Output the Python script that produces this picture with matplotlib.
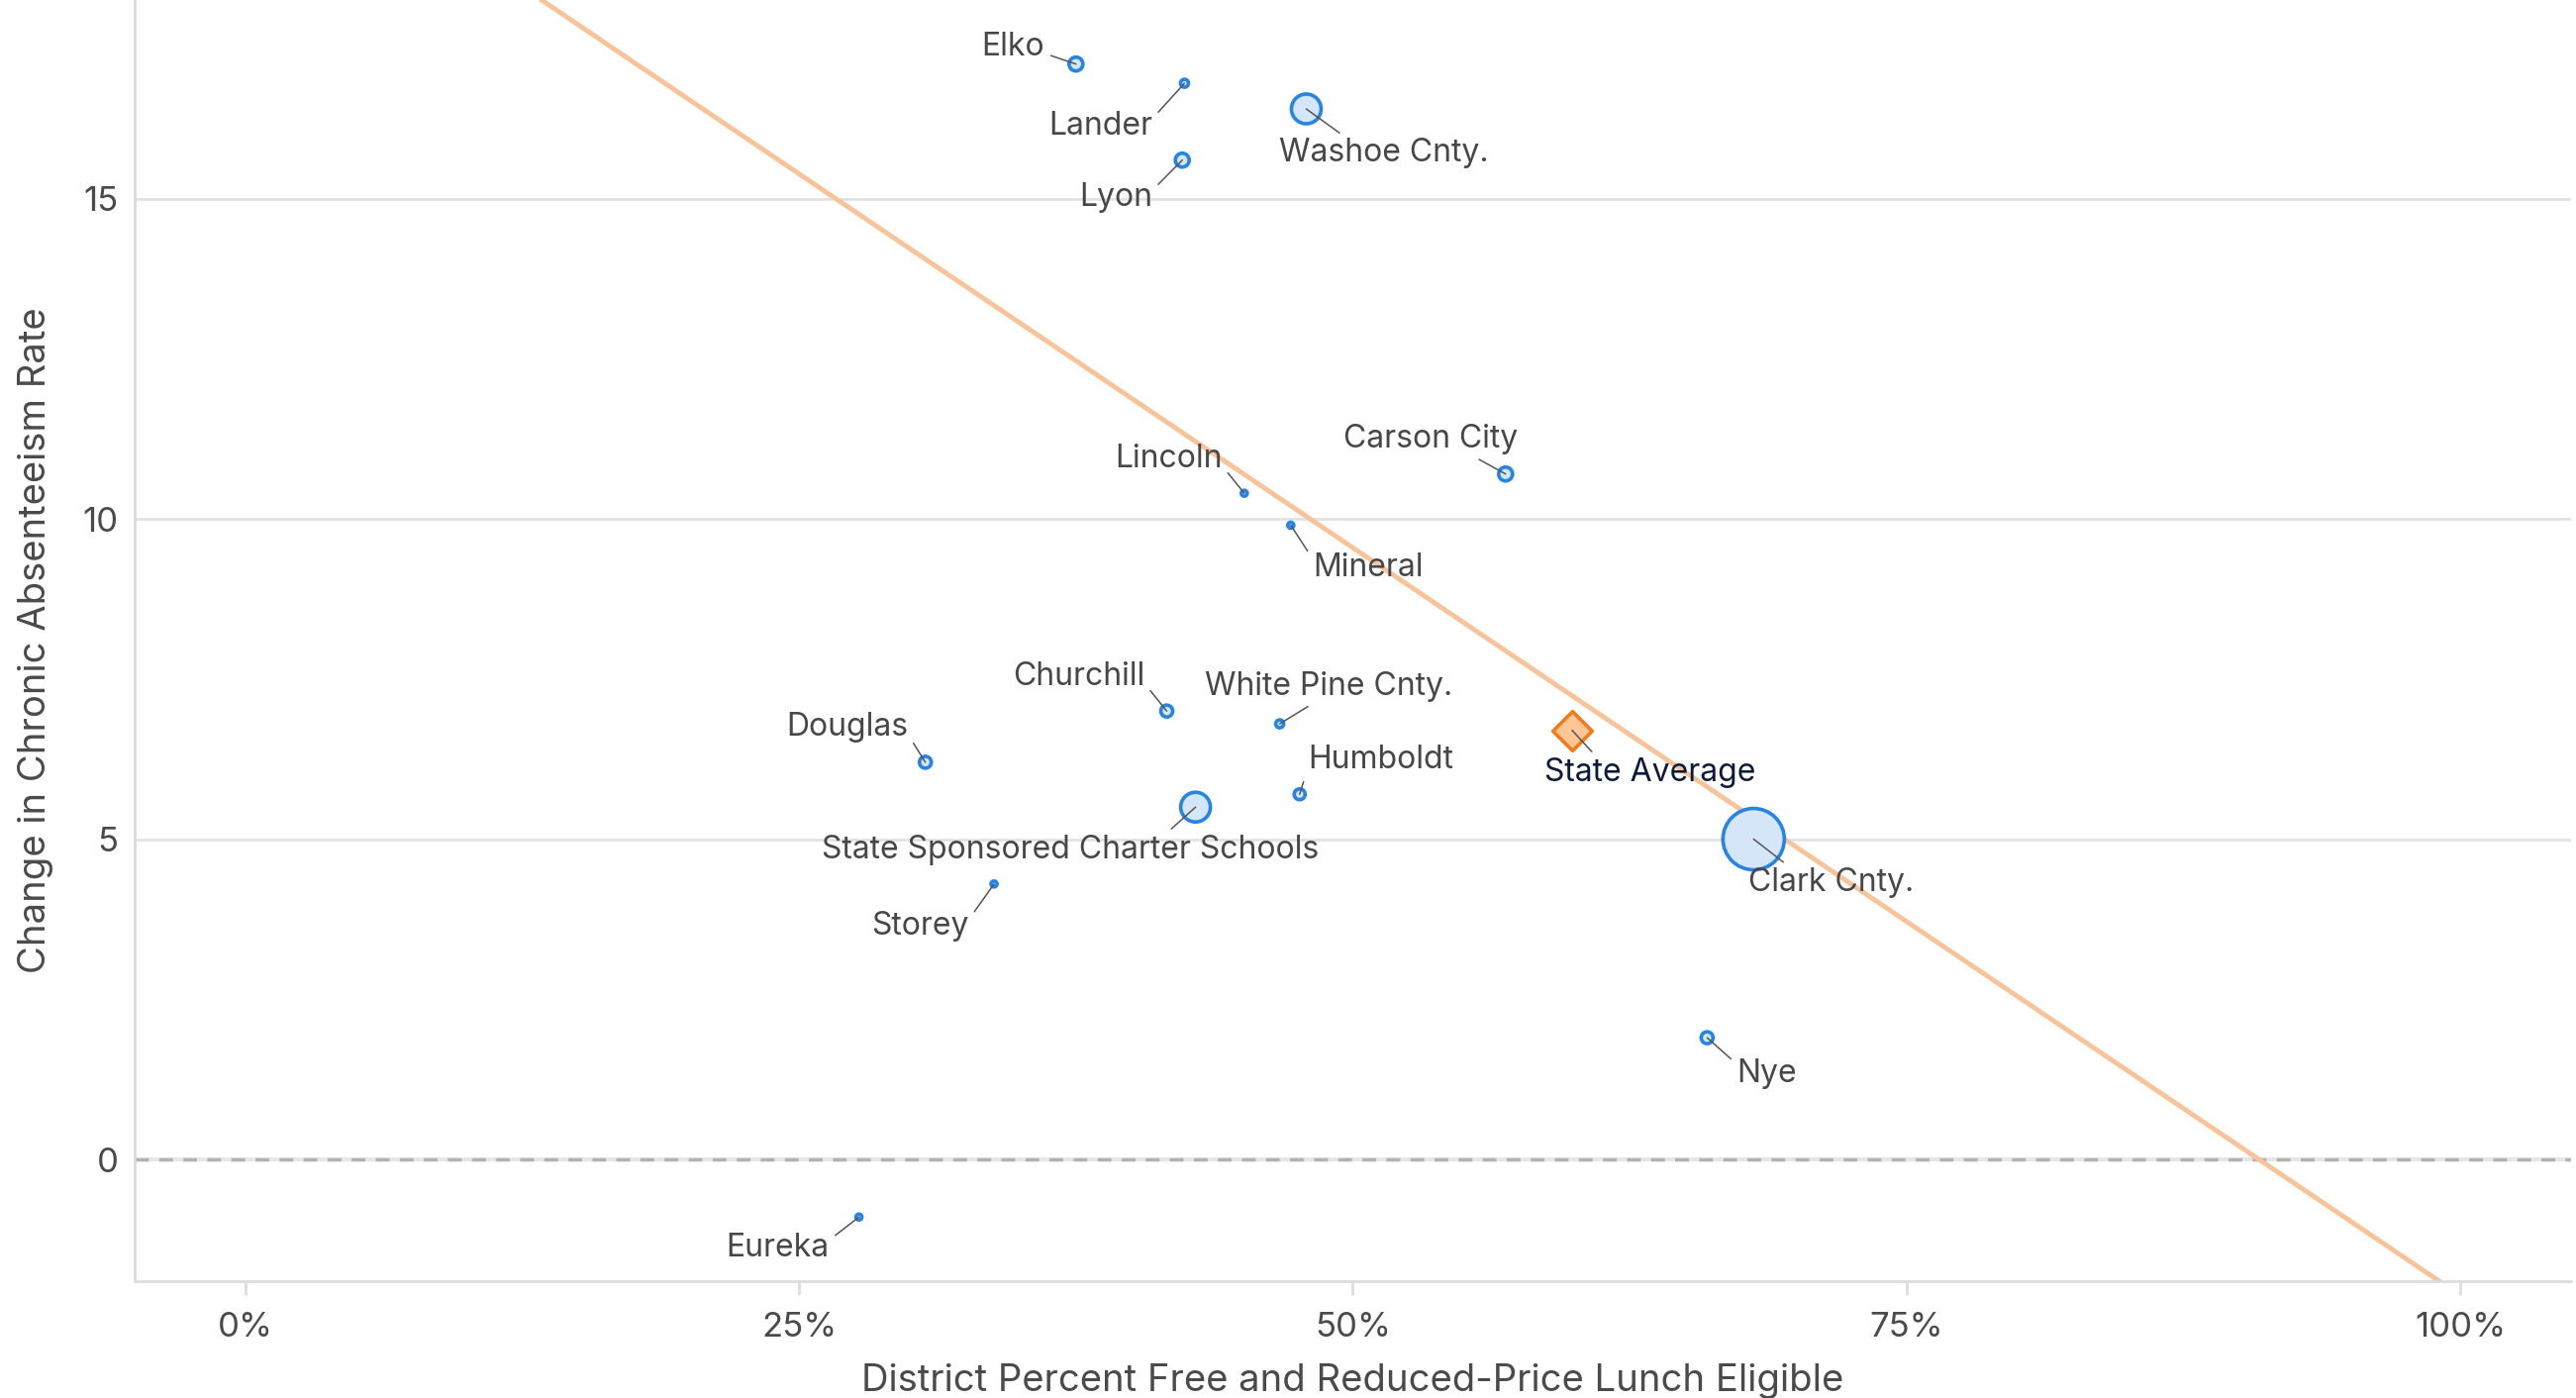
import matplotlib
matplotlib.use('Agg')
import matplotlib.pyplot as plt
from matplotlib.ticker import FuncFormatter

plt.rcParams['font.family'] = ['Inter', 'DejaVu Sans']

# ── data ──
districts = ['Elko', 'Lander', 'Washoe Cnty.', 'Lyon', 'Lincoln', 'Carson City',
             'Mineral', 'Churchill', 'White Pine Cnty.', 'Douglas', 'Humboldt',
             'State Sponsored Charter Schools', 'Clark Cnty.', 'Storey', 'Nye', 'Eureka']
frl_pct = [37.5, 42.4, 47.9, 42.3, 45.1, 56.9, 47.2, 41.6, 46.7, 30.7, 47.6,
           42.9, 68.1, 33.8, 66.0, 27.7]
absent_change = [17.1, 16.8, 16.4, 15.6, 10.4, 10.7, 9.9, 7.0, 6.8, 6.2, 5.7,
                 5.5, 5.0, 4.3, 1.9, -0.9]
# relative bubble weight (marker radius in px)
bubble_radius = [7, 4, 15, 7, 3, 7, 3, 6, 4, 6, 5.5, 15, 31, 3, 6, 3]

state_avg_x = 59.9
state_avg_y = 6.7

trend_intercept = 21.22   # value at 0 %
trend_slope = -0.2334     # per percentage point

x_ticks = [0, 25, 50, 75, 100]
y_ticks = [0, 5, 10, 15]

# label placement: offset in pixels (dx, dy), alignment, leader anchor on text box
label_offsets = {
    'Elko': (-32, 17, 'right', (1.0, 0.3)),
    'Lander': (-32, -43, 'right', (1.0, 0.75)),
    'Washoe Cnty.': (-27, -45, 'left', (0.32, 1.0)),
    'Lyon': (-30, -38, 'right', (1.0, 0.75)),
    'Lincoln': (-22, 35, 'right', (1.0, 0.25)),
    'Carson City': (-76, 35, 'center', (0.73, 0.0)),
    'Mineral': (22, -43, 'left', (0.0, 0.8)),
    'Churchill': (-22, 35, 'right', (1.0, 0.25)),
    'White Pine Cnty.': (-76, 38, 'left', (0.45, 0.0)),
    'Douglas': (-17, 35, 'right', (1.0, 0.25)),
    'Humboldt': (8, 35, 'left', (0.0, 0.2)),
    'State Sponsored Charter Schools': (-126, -43, 'center', (0.69, 1.0)),
    'Clark Cnty.': (-5, -44, 'left', (0.25, 1.0)),
    'Storey': (-25, -43, 'right', (1.0, 0.75)),
    'Nye': (30, -36, 'left', (0.0, 0.8)),
    'Eureka': (-30, -31, 'right', (1.0, 0.75)),
}

DPI = 100
px2pt = 72 / DPI

fig = plt.figure(figsize=(26.02, 14.12), dpi=DPI)
ax = fig.add_axes([0.0523, 0.0836, 0.9457, 0.9164])

ax.set_xlim(-5, 105)
ax.set_ylim(-1.9, 18.1)

# grid
for yv in y_ticks:
    if yv == 0:
        ax.axhline(0, color='#e6e6e6', lw=3, zorder=1)
        ax.axhline(0, color='#b3b3b3', lw=2.5, ls=(0, (4, 3)), zorder=1.1)
    else:
        ax.axhline(yv, color='#e2e2e2', lw=2, zorder=1)

# trend line
tx = [-5, 105]
ty = [trend_intercept + trend_slope * v for v in tx]
ax.plot(tx, ty, color='#f9c39a', lw=3.5, zorder=2, solid_capstyle='butt')

# bubbles
sizes = [(2 * r * px2pt) ** 2 for r in bubble_radius]
ax.scatter(frl_pct, absent_change, s=sizes, facecolor='#d4e6f8',
           edgecolor='#2684e6', linewidth=2.6, zorder=3)

# state average
ax.scatter([state_avg_x], [state_avg_y], marker='D', s=(28 * px2pt) ** 2,
           facecolor='#fdc795', edgecolor='#f07b1c', linewidth=2.6, zorder=4)

# labels
for name, xv, yv in zip(districts, frl_pct, absent_change):
    dx, dy, ha, rel = label_offsets[name]
    ax.annotate(name, xy=(xv, yv), xytext=(dx, dy), textcoords='offset pixels',
                ha=ha, va='center', fontsize=23, color='#474747',
                arrowprops=dict(arrowstyle='-', color='#555555', lw=1.1,
                                shrinkA=3, shrinkB=0, relpos=rel),
                zorder=5)

ax.annotate('State Average', xy=(state_avg_x, state_avg_y), xytext=(-28, -43),
            textcoords='offset pixels', ha='left', va='center', fontsize=23,
            color='#0d1b3a',
            arrowprops=dict(arrowstyle='-', color='#555555', lw=1.1,
                            shrinkA=3, shrinkB=0, relpos=(0.25, 1.0)),
            zorder=5)

# axes styling
for side in ['top', 'right']:
    ax.spines[side].set_visible(False)
for side in ['left', 'bottom']:
    ax.spines[side].set_color('#dddddd')
    ax.spines[side].set_linewidth(2)

ax.set_xticks(x_ticks)
ax.xaxis.set_major_formatter(FuncFormatter(lambda v, p: f'{v:.0f}%'))
ax.set_yticks(y_ticks)
ax.tick_params(axis='x', colors='#dddddd', length=10, width=2, labelsize=25,
               labelcolor='#4a4a4a', pad=12)
ax.tick_params(axis='y', length=0, labelsize=25, labelcolor='#4a4a4a', pad=12)

ax.set_xlabel('District Percent Free and Reduced-Price Lunch Eligible',
              fontsize=27.5, color='#4a4a4a', labelpad=15)
ax.set_ylabel('Change in Chronic Absenteeism Rate', fontsize=27.5,
              color='#4a4a4a', labelpad=21)

fig.savefig('out.png', dpi=DPI)
